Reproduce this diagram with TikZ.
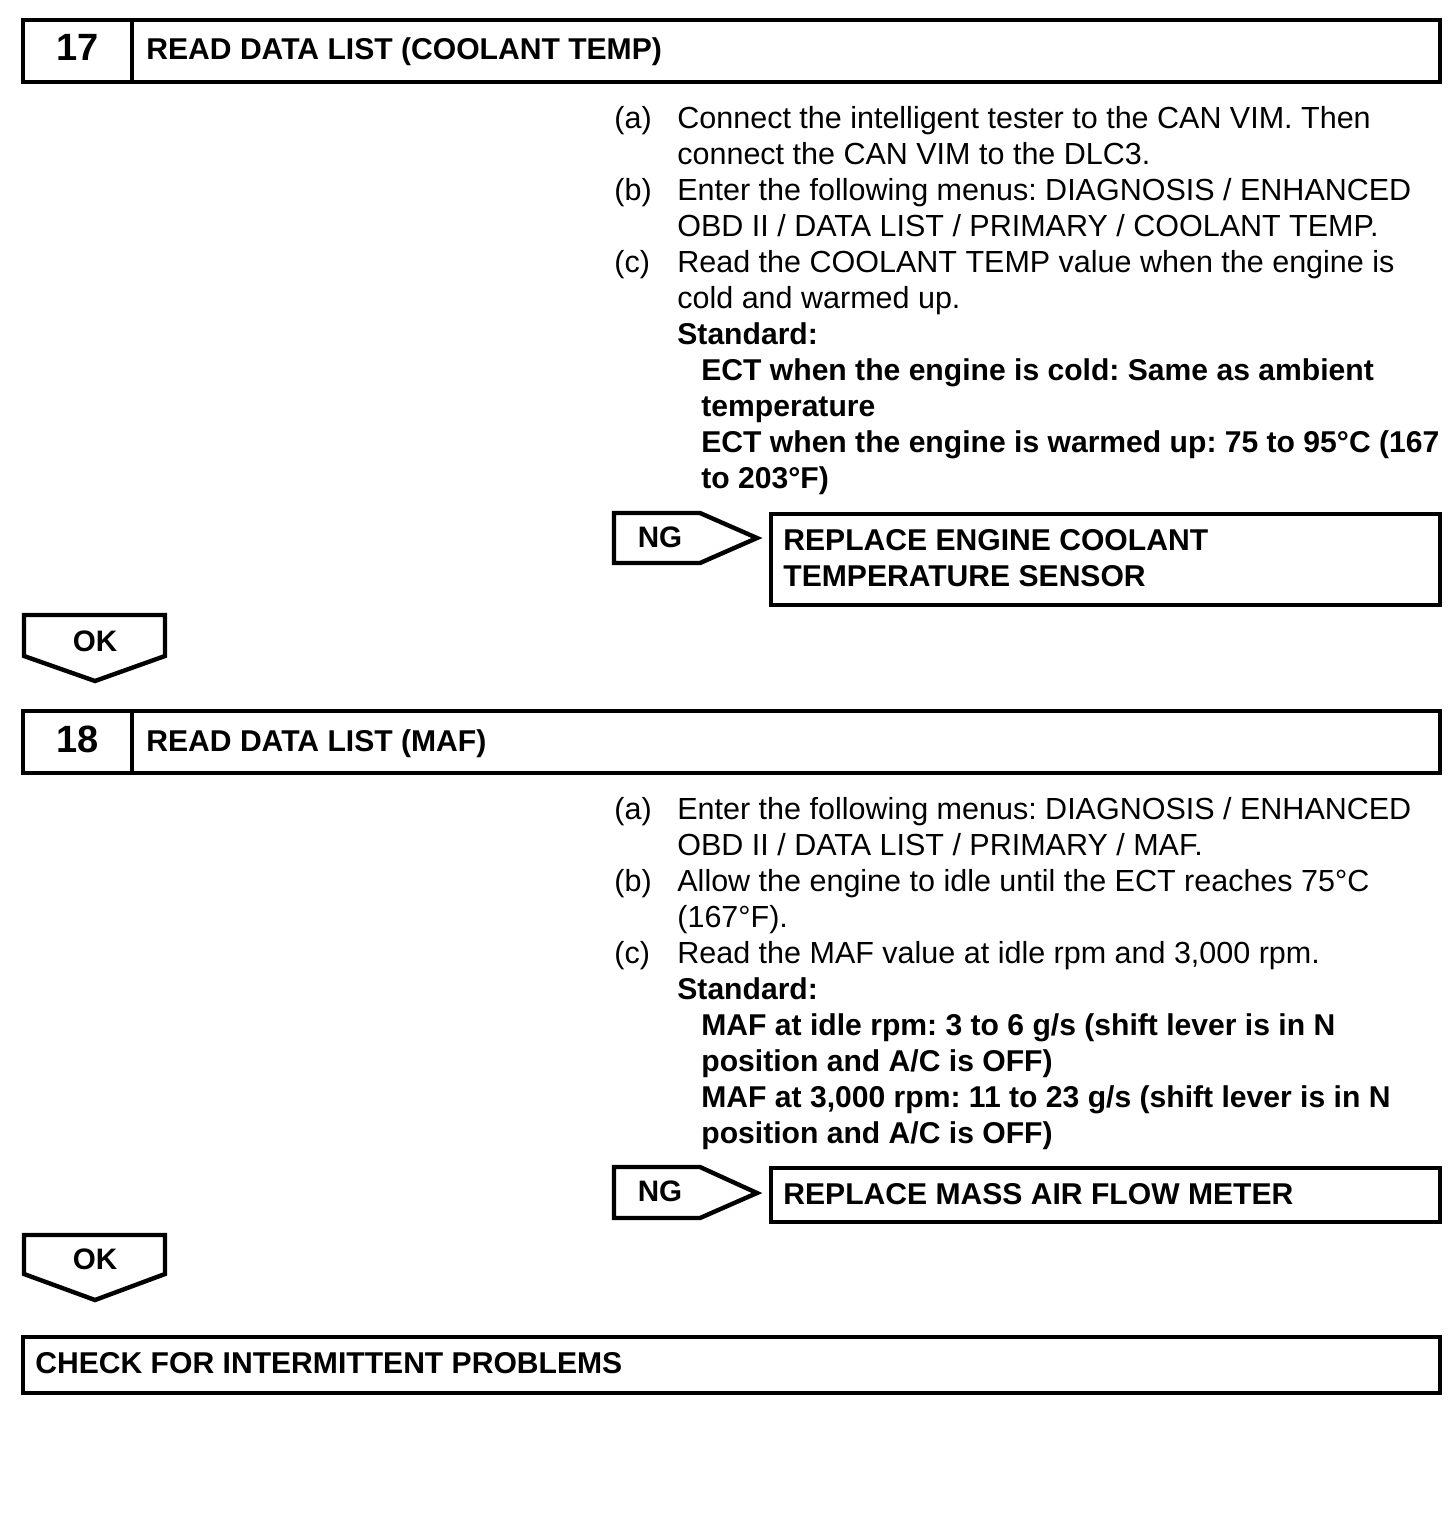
\documentclass[tikz,border=0pt]{standalone}
\usepackage{fontspec}
\setmainfont{Liberation Sans}
\begin{document}
\frenchspacing
\begin{tikzpicture}[x=0.5pt,y=-0.5pt,
  box/.style={draw=black,line width=2.2pt,line join=miter},
  txt/.style={anchor=base west,inner sep=0pt,font=\fontsize{15.25}{18}\selectfont\frenchspacing},
  btxt/.style={anchor=base west,inner sep=0pt,font=\fontsize{15.05}{18}\selectfont\bfseries\frenchspacing},
  numtxt/.style={anchor=base,inner sep=0pt,font=\fontsize{19}{22}\selectfont\bfseries},
  tagtxt/.style={anchor=base,inner sep=0pt,font=\fontsize{14.8}{18}\selectfont\bfseries}]
\useasboundingbox[fill=white] (0,0) rectangle (1456,1528);

% ---------- step 17 ----------
\draw[box] (23,20) rectangle (1440,82);
\draw[box] (132,20) -- (132,82);
\node[numtxt] (n17) at (78,60) {17};
\node[btxt] (h17) at (146,59) {READ DATA LIST (COOLANT TEMP)};

\node[txt] (a17l) at (614,128) {(a)};
\node[txt] (a17a) at (677,128) {Connect the intelligent tester to the CAN VIM. Then};
\node[txt] (a17b) at (677,164) {connect the CAN VIM to the DLC3.};
\node[txt] (b17l) at (614,200) {(b)};
\node[txt] (b17a) at (677,200) {Enter the following menus: DIAGNOSIS / ENHANCED};
\node[txt] (b17b) at (677,236) {OBD II / DATA LIST / PRIMARY / COOLANT TEMP.};
\node[txt] (c17l) at (614,272) {(c)};
\node[txt] (c17a) at (677,272) {Read the COOLANT TEMP value when the engine is};
\node[txt] (c17b) at (677,308) {cold and warmed up.};
\node[btxt] (s17) at (677,344) {Standard:};
\node[btxt] (s17a) at (701,380) {ECT when the engine is cold: Same as ambient};
\node[btxt] (s17b) at (701,416) {temperature};
\node[btxt] (s17c) at (701,452) {ECT when the engine is warmed up: 75 to 95°C (167};
\node[btxt] (s17d) at (701,488) {to 203°F)};

% NG 1
\draw[box] (614,513) -- (700,513) -- (757,538) -- (700,563) -- (614,563) -- cycle;
\node[tagtxt] (ng1) at (660,547) {NG};
\draw[box] (771,514) rectangle (1440,605);
\node[btxt] (r1a) at (783,550) {REPLACE ENGINE COOLANT};
\node[btxt] (r1b) at (783,586) {TEMPERATURE SENSOR};

% OK 1
\draw[box] (24,615) -- (165,615) -- (165,656) -- (95,681) -- (24,656) -- cycle;
\node[tagtxt] (ok1) at (95,651) {OK};

% ---------- step 18 ----------
\draw[box] (23,711) rectangle (1440,773);
\draw[box] (132,711) -- (132,773);
\node[numtxt] (n18) at (78,752) {18};
\node[btxt] (h18) at (146,751) {READ DATA LIST (MAF)};

\node[txt] (a18l) at (614,819) {(a)};
\node[txt] (a18a) at (677,819) {Enter the following menus: DIAGNOSIS / ENHANCED};
\node[txt] (a18b) at (677,855) {OBD II / DATA LIST / PRIMARY / MAF.};
\node[txt] (b18l) at (614,891) {(b)};
\node[txt] (b18a) at (677,891) {Allow the engine to idle until the ECT reaches 75°C};
\node[txt] (b18b) at (677,927) {(167°F).};
\node[txt] (c18l) at (614,963) {(c)};
\node[txt] (c18a) at (677,963) {Read the MAF value at idle rpm and 3,000 rpm.};
\node[btxt] (s18) at (677,999) {Standard:};
\node[btxt] (s18a) at (701,1035) {MAF at idle rpm: 3 to 6 g/s (shift lever is in N};
\node[btxt] (s18b) at (701,1071) {position and A/C is OFF)};
\node[btxt] (s18c) at (701,1107) {MAF at 3,000 rpm: 11 to 23 g/s (shift lever is in N};
\node[btxt] (s18d) at (701,1143) {position and A/C is OFF)};

% NG 2
\draw[box] (614,1167) -- (700,1167) -- (757,1193) -- (700,1218) -- (614,1218) -- cycle;
\node[tagtxt] (ng2) at (660,1201) {NG};
\draw[box] (771,1168) rectangle (1440,1222);
\node[btxt] (r2a) at (783,1204) {REPLACE MASS AIR FLOW METER};

% OK 2
\draw[box] (24,1235) -- (165,1235) -- (165,1274) -- (95,1300) -- (24,1274) -- cycle;
\node[tagtxt] (ok2) at (95,1269) {OK};

% ---------- final ----------
\draw[box] (23,1337) rectangle (1440,1393);
\node[btxt] (fin) at (35,1373) {CHECK FOR INTERMITTENT PROBLEMS};
\end{tikzpicture}
\end{document}
